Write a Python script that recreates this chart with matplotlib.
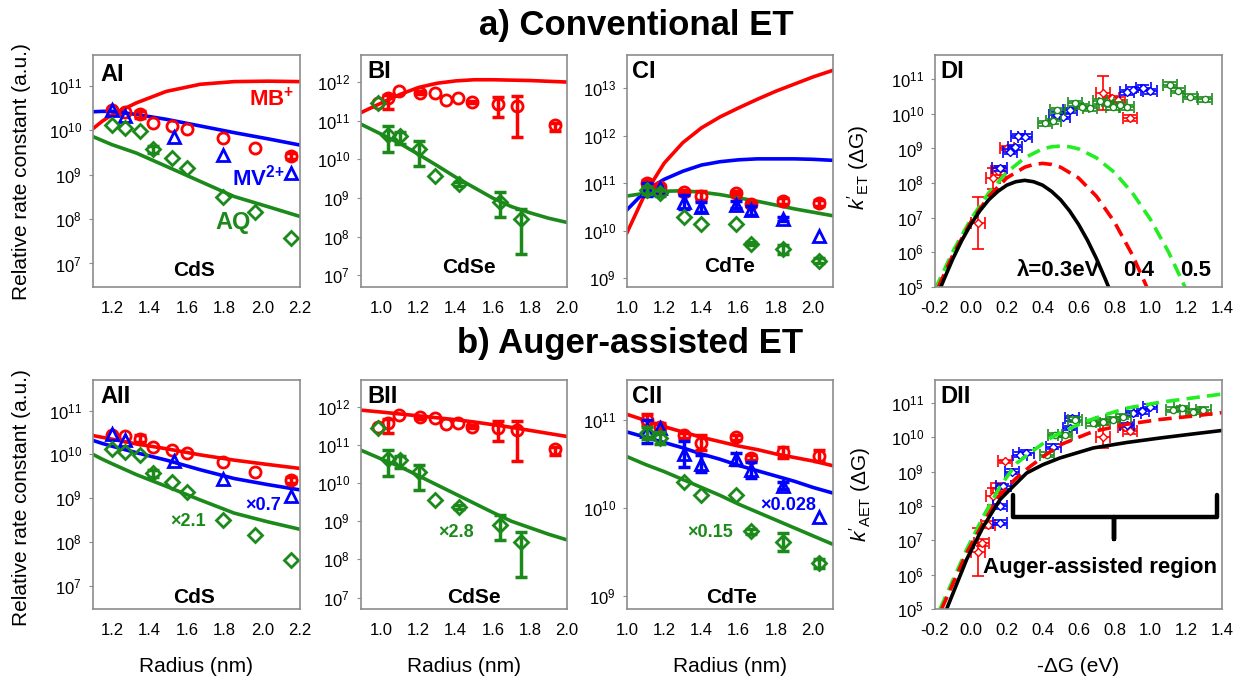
import numpy as np
import matplotlib.pyplot as plt
from matplotlib.ticker import FixedLocator, NullLocator

plt.rcParams['font.family'] = ['Liberation Sans', 'DejaVu Sans']
plt.rcParams['mathtext.fontset'] = 'custom'
plt.rcParams['mathtext.rm'] = 'Liberation Sans'
plt.rcParams['mathtext.it'] = 'Liberation Sans:italic'
plt.rcParams['mathtext.bf'] = 'Liberation Sans:bold'

RED = '#ff0000'
BLUE = '#0000ff'
GREEN = '#1b8a1b'
LIME = '#22ee22'
FRAME = '#8c8c8c'

# ---------------- CdS (panels A) : log10 of rate constants ----------------
cds_r_mb = [1.20, 1.27, 1.35, 1.42, 1.52, 1.60, 1.79, 1.96, 2.15]
cds_mb = [10.45, 10.41, 10.36, 10.17, 10.10, 10.04, 9.83, 9.61, 9.42]
cds_mb_err = [0.0, 0.0, 0.08, 0.0, 0.0, 0.0, 0.0, 0.0, 0.07]
cds_r_mv = [1.20, 1.27, 1.53, 1.79, 2.15]
cds_mv = [10.47, 10.32, 9.86, 9.45, 9.04]
cds_r_aq = [1.20, 1.27, 1.35, 1.42, 1.52, 1.60, 1.79, 1.96, 2.15]
cds_aq = [10.13, 10.06, 9.98, 9.57, 9.38, 9.15, 8.51, 8.15, 7.58]
cds_aq_err = [0.0, 0.0, 0.0, 0.08, 0.0, 0.0, 0.0, 0.0, 0.0]

cds_fit_r = [1.10, 1.15, 1.20, 1.33, 1.49, 1.67, 1.85, 2.03, 2.20]
cds_mb_conv = [10.04, 10.21, 10.35, 10.62, 10.88, 11.04, 11.10, 11.11, 11.10]
cds_mv_conv = [10.42, 10.43, 10.43, 10.36, 10.25, 10.10, 9.95, 9.81, 9.67]
cds_aq_conv = [9.86, 9.77, 9.68, 9.49, 9.19, 8.85, 8.51, 8.28, 8.06]
cds_mb_aug = [10.43, 10.39, 10.35, 10.24, 10.13, 9.99, 9.87, 9.77, 9.68]
cds_mv_aug = [10.32, 10.25, 10.19, 10.04, 9.87, 9.65, 9.45, 9.31, 9.19]
cds_aq_aug = [10.00, 9.89, 9.79, 9.54, 9.27, 8.96, 8.66, 8.46, 8.29]

# ---------------- CdSe (panels B) ----------------
cdse_r_mb = [0.98, 1.034, 1.093, 1.206, 1.29, 1.35, 1.41, 1.49, 1.63, 1.73, 1.935]
cdse_mb = [11.47, 11.58, 11.78, 11.73, 11.71, 11.54, 11.58, 11.48, 11.43, 11.38, 10.89]
cdse_mb_up = [0, 0.09, 0, 0.03, 0, 0, 0, 0.03, 0.19, 0.25, 0.06]
cdse_mb_dn = [0, 0.28, 0, 0.05, 0, 0, 0, 0.03, 0.34, 0.81, 0.15]
cdse_r_aq = [0.98, 1.034, 1.10, 1.20, 1.29, 1.42, 1.64, 1.75]
cdse_aq = [11.45, 10.63, 10.60, 10.28, 9.56, 9.37, 8.91, 8.46]
cdse_aq_up = [0, 0.23, 0.12, 0.20, 0, 0.05, 0.24, 0.26]
cdse_aq_dn = [0, 0.44, 0.20, 0.46, 0, 0.05, 0.41, 0.91]

cdse_fit_r = [0.89, 1.0, 1.1, 1.2, 1.3, 1.4, 1.5, 1.6, 1.7, 1.8, 1.9, 2.0]
cdse_mb_conv = [11.21, 11.46, 11.68, 11.86, 11.97, 12.03, 12.06, 12.06, 12.05, 12.04, 12.02, 12.00]
cdse_aq_conv = [10.91, 10.65, 10.41, 10.13, 9.84, 9.54, 9.27, 9.00, 8.78, 8.62, 8.48, 8.37]
cdse_mb_aug = [11.91, 11.86, 11.81, 11.76, 11.71, 11.66, 11.60, 11.53, 11.46, 11.38, 11.30, 11.22]
cdse_aq_aug = [10.86, 10.63, 10.43, 10.19, 9.95, 9.71, 9.47, 9.23, 9.00, 8.83, 8.66, 8.51]

# ---------------- CdTe (panels C) ----------------
cdte_r = [1.106, 1.18, 1.306, 1.398, 1.586, 1.665, 1.837, 2.03]
cdte_mb = [11.00, 10.92, 10.82, 10.74, 10.80, 10.57, 10.63, 10.59]
cdte_mv = [10.87, 10.90, 10.61, 10.50, 10.55, 10.43, 10.25, 9.89]
cdte_aq = [10.85, 10.79, 10.29, 10.14, 10.14, 9.73, 9.61, 9.37]
cdte_mb_err = [0.06, 0.04, 0.03, 0.09, 0.03, 0.03, 0.06, 0.06]
cdte_mv_err = [0.13, 0.0, 0.15, 0.10, 0.07, 0.09, 0.04, 0.0]
cdte_aq_err = [0.07, 0.07, 0.0, 0.0, 0.0, 0.03, 0.10, 0.05]

cdte_fit_r = [1.0, 1.1, 1.2, 1.3, 1.4, 1.5, 1.6, 1.7, 1.8, 1.9, 2.0, 2.1]
cdte_mb_conv = [9.96, 10.80, 11.42, 11.85, 12.16, 12.39, 12.58, 12.76, 12.93, 13.08, 13.23, 13.36]
cdte_mv_conv = [10.44, 10.84, 11.08, 11.25, 11.38, 11.45, 11.49, 11.51, 11.51, 11.51, 11.50, 11.48]
cdte_aq_conv = [10.73, 10.79, 10.83, 10.84, 10.81, 10.76, 10.69, 10.62, 10.54, 10.46, 10.39, 10.32]
cdte_mb_aug = [11.06, 10.99, 10.92, 10.86, 10.80, 10.75, 10.70, 10.66, 10.61, 10.57, 10.53, 10.48]
cdte_mv_aug = [10.86, 10.80, 10.74, 10.68, 10.61, 10.55, 10.48, 10.42, 10.36, 10.30, 10.23, 10.17]
cdte_aq_aug = [10.58, 10.49, 10.41, 10.32, 10.23, 10.14, 10.04, 9.95, 9.86, 9.77, 9.68, 9.59]

# ---------------- panel DI : Marcus curves and data ----------------
d1_g_03 = [-0.17, -0.15, -0.1, -0.05, 0.0, 0.05, 0.1, 0.15, 0.2, 0.25, 0.3,
           0.35, 0.4, 0.45, 0.5, 0.55, 0.6, 0.65, 0.7, 0.75, 0.77]
d1_k_03 = [4.97, 5.22, 5.82, 6.35, 6.81, 7.20, 7.52, 7.76, 7.94, 8.04, 8.08,
           8.04, 7.94, 7.76, 7.52, 7.20, 6.81, 6.35, 5.82, 5.22, 4.97]
d1_g_04 = [-0.18, -0.1, 0.0, 0.1, 0.2, 0.3, 0.35, 0.4, 0.45, 0.5, 0.6, 0.7, 0.8, 0.9, 0.98]
d1_k_04 = [5.01, 5.93, 6.88, 7.62, 8.15, 8.46, 8.54, 8.57, 8.54, 8.46, 8.15, 7.62, 6.88, 5.93, 5.01]
d1_g_05 = [-0.2, -0.1, 0.0, 0.1, 0.2, 0.3, 0.4, 0.45, 0.5, 0.55, 0.6, 0.7, 0.8, 0.9, 1.0, 1.1, 1.2]
d1_k_05 = [4.93, 6.03, 6.96, 7.72, 8.31, 8.73, 8.99, 9.05, 9.07, 9.05, 8.99, 8.73, 8.31, 7.72,
           6.96, 6.03, 4.93]

d1_red_g = [0.041, 0.125, 0.153, 0.20, 0.738, 0.785, 0.822, 0.887]
d1_red_k = [6.86, 8.14, 8.36, 9.01, 10.60, 10.45, 10.40, 9.88]
d1_red_e = [0.75, 0.30, 0.12, 0.05, 0.50, 0.08, 0.08, 0.10]
d1_blue_g = [0.16, 0.218, 0.246, 0.264, 0.301, 0.478, 0.515, 0.553, 0.869, 0.906, 0.962, 1.0]
d1_blue_k = [8.43, 8.91, 9.04, 9.36, 9.34, 9.97, 9.92, 10.10, 10.62, 10.70, 10.75, 10.65]
d1_green_g = [0.413, 0.46, 0.482, 0.58, 0.618, 0.663, 0.72, 0.757, 0.794, 0.831, 0.868,
              1.11, 1.156, 1.221, 1.305]
d1_green_k = [9.73, 9.78, 10.10, 10.31, 10.21, 10.16, 10.36, 10.31, 10.19, 10.26, 10.19,
              10.84, 10.67, 10.50, 10.42]

# ---------------- panel DII ----------------
d2_g_03 = [-0.135, -0.023, 0.07, 0.163, 0.218, 0.311, 0.4, 0.497, 0.682, 0.869, 1.054, 1.24, 1.4]
d2_k_03 = [5.0, 6.45, 7.41, 8.19, 8.48, 8.96, 9.20, 9.40, 9.69, 9.85, 9.98, 10.10, 10.20]
d2_g_04 = [-0.163, -0.023, 0.07, 0.163, 0.25, 0.33, 0.42, 0.497, 0.6, 0.682, 0.869, 1.054, 1.24, 1.4]
d2_k_04 = [5.0, 6.64, 7.51, 8.33, 8.80, 9.15, 9.50, 9.78, 10.0, 10.17, 10.38, 10.52, 10.62, 10.72]
d2_g_05 = [-0.172, -0.023, 0.07, 0.163, 0.256, 0.349, 0.45, 0.535, 0.65, 0.75, 0.869, 1.054, 1.24, 1.4]
d2_k_05 = [5.0, 6.74, 7.70, 8.57, 9.25, 9.62, 10.0, 10.22, 10.48, 10.66, 10.85, 11.02, 11.15, 11.26]

d2_red_g = [0.041, 0.06, 0.097, 0.125, 0.153, 0.19, 0.738, 0.86, 0.887]
d2_red_k = [6.66, 6.93, 7.46, 8.28, 8.53, 9.30, 10.02, 10.31, 10.17]
d2_red_e = [0.70, 0.10, 0.10, 0.25, 0.15, 0.05, 0.33, 0.08, 0.08]
d2_blue_g = [0.162, 0.162, 0.181, 0.228, 0.274, 0.31, 0.46, 0.553, 0.562, 0.869, 0.906, 0.952, 1.0]
d2_blue_k = [7.51, 7.99, 8.57, 9.00, 9.49, 9.55, 9.73, 10.27, 10.56, 10.36, 10.70, 10.76, 10.89]
d2_green_g = [0.423, 0.469, 0.525, 0.58, 0.682, 0.738, 0.794, 0.85, 1.128, 1.175, 1.24, 1.296]
d2_green_k = [9.49, 10.07, 10.07, 10.51, 10.41, 10.46, 10.51, 10.60, 10.80, 10.85, 10.75, 10.80]

brace_g = [0.235, 0.80, 1.372]
brace_k = [8.33, 7.67, 7.03]

W, H = 1237, 682
fig = plt.figure(figsize=(W / 100, H / 100), dpi=100)


def make_axes(x0, x1, y0, y1):
    return fig.add_axes([x0 / W, 1 - y1 / H, (x1 - x0) / W, (y1 - y0) / H])


def setup(ax, xlim, xticks, ylim, yexp):
    ax.set_yscale('log')
    ax.set_xlim(*xlim)
    ax.set_ylim(10.0 ** ylim[0], 10.0 ** ylim[1])
    ax.set_xticks(xticks)
    ax.set_xticklabels(['%.1f' % t for t in xticks])
    ax.yaxis.set_major_locator(FixedLocator([10.0 ** e for e in yexp]))
    ax.yaxis.set_minor_locator(NullLocator())
    for s in ax.spines.values():
        s.set_color(FRAME)
        s.set_linewidth(1.2)
    ax.tick_params(axis='both', labelsize=12, color=FRAME)
    ax.tick_params(axis='x', length=0, pad=10)
    ax.tick_params(axis='y', length=3, pad=5)


def curve(ax, x, k, color, **kw):
    ax.plot(x, np.power(10.0, k), color=color, lw=2.6, **kw)


def points(ax, x, k, color, marker, up=None, dn=None, ms=8):
    k = np.array(k)
    x = np.array(x)
    y = np.power(10.0, k)
    if up is not None:
        up = np.array(up)
        dn = np.array(up if dn is None else dn)
        m = (up + dn) > 0
        yerr = [y[m] - np.power(10.0, k[m] - dn[m]), np.power(10.0, k[m] + up[m]) - y[m]]
        ax.errorbar(x[m], y[m], yerr=yerr, fmt='none', ecolor=color,
                    elinewidth=2.5, capsize=4, capthick=2.5)
    ax.plot(x, y, ls='none', marker=marker, ms=ms, mfc='none', mec=color, mew=2)


def dpoints(ax, g, k, color, marker, ke=None):
    k = np.array(k)
    y = np.power(10.0, k)
    e = np.full(len(k), 0.07) if ke is None else np.array(ke)
    yerr = [y - np.power(10.0, k - e), np.power(10.0, k + e) - y]
    ax.errorbar(g, y, xerr=0.04, yerr=yerr, fmt='none', ecolor=color,
                elinewidth=1.2, capsize=4, capthick=1.2)
    ax.plot(g, y, ls='none', marker=marker, ms=4.5, mfc='white', mec=color, mew=1)


def label(ax, x, y, s, size=15, color='black', ha='center'):
    ax.text(x, y, s, transform=ax.transAxes, fontsize=size, fontweight='bold',
            color=color, ha=ha, va='center')


TOP = (55, 287)
BOT = (380, 609)
COLS = [(93, 300), (361, 567), (627, 833), (935, 1222)]
r_ticks_a = [1.2, 1.4, 1.6, 1.8, 2.0, 2.2]
r_ticks_bc = [1.0, 1.2, 1.4, 1.6, 1.8, 2.0]
g_ticks = [-0.2, 0.0, 0.2, 0.4, 0.6, 0.8, 1.0, 1.2, 1.4]

# ---------------- A ----------------
for row, (y0, y1) in enumerate([TOP, BOT]):
    ax = make_axes(COLS[0][0], COLS[0][1], y0, y1)
    setup(ax, (1.1, 2.2), r_ticks_a, (6.47, 11.70), [7, 8, 9, 10, 11])
    if row == 0:
        fits = [cds_mb_conv, cds_mv_conv, cds_aq_conv]
    else:
        fits = [cds_mb_aug, cds_mv_aug, cds_aq_aug]
    curve(ax, cds_fit_r, fits[0], RED)
    curve(ax, cds_fit_r, fits[1], BLUE)
    curve(ax, cds_fit_r, fits[2], GREEN)
    points(ax, cds_r_mb, cds_mb, RED, 'o', cds_mb_err)
    points(ax, cds_r_mv, cds_mv, BLUE, '^')
    points(ax, cds_r_aq, cds_aq, GREEN, 'D', cds_aq_err, ms=7)
    if row == 0:
        label(ax, 0.035, 0.914, 'AI', 17, ha='left')
        label(ax, 0.49, 0.073, 'CdS')
        label(ax, 0.865, 0.81, r'MB$^{\mathbf{+}}$', 16, RED)
        label(ax, 0.80, 0.47, r'MV$^{\mathbf{2}\mathbf{{+}}}$', 16, BLUE)
        label(ax, 0.676, 0.28, 'AQ', 17, GREEN)
    else:
        label(ax, 0.035, 0.926, 'AII', 17, ha='left')
        label(ax, 0.49, 0.052, 'CdS')
        label(ax, 0.82, 0.454, '×0.7', 13, BLUE)
        label(ax, 0.46, 0.38, '×2.1', 13, GREEN)

# ---------------- B ----------------
for row, (y0, y1) in enumerate([TOP, BOT]):
    ax = make_axes(COLS[1][0], COLS[1][1], y0, y1)
    setup(ax, (0.89, 2.0), r_ticks_bc, (6.7, 12.7), [7, 8, 9, 10, 11, 12])
    if row == 0:
        curve(ax, cdse_fit_r, cdse_mb_conv, RED)
        curve(ax, cdse_fit_r, cdse_aq_conv, GREEN)
    else:
        curve(ax, cdse_fit_r, cdse_mb_aug, RED)
        curve(ax, cdse_fit_r, cdse_aq_aug, GREEN)
    points(ax, cdse_r_mb, cdse_mb, RED, 'o', cdse_mb_up, cdse_mb_dn)
    points(ax, cdse_r_aq, cdse_aq, GREEN, 'D', cdse_aq_up, cdse_aq_dn, ms=7)
    if row == 0:
        label(ax, 0.03, 0.93, 'BI', 17, ha='left')
        label(ax, 0.524, 0.086, 'CdSe')
    else:
        label(ax, 0.03, 0.926, 'BII', 17, ha='left')
        label(ax, 0.549, 0.052, 'CdSe')
        label(ax, 0.461, 0.336, '×2.8', 13, GREEN)

# ---------------- C ----------------
for row, (y0, y1) in enumerate([TOP, BOT]):
    ax = make_axes(COLS[2][0], COLS[2][1], y0, y1)
    if row == 0:
        setup(ax, (1.0, 2.107), r_ticks_bc, (8.82, 13.69), [9, 10, 11, 12, 13])
        curve(ax, cdte_fit_r, cdte_mb_conv, RED)
        curve(ax, cdte_fit_r, cdte_mv_conv, BLUE)
        curve(ax, cdte_fit_r, cdte_aq_conv, GREEN)
    else:
        setup(ax, (1.0, 2.107), r_ticks_bc, (8.85, 11.45), [9, 10, 11])
        curve(ax, cdte_fit_r, cdte_mb_aug, RED)
        curve(ax, cdte_fit_r, cdte_mv_aug, BLUE)
        curve(ax, cdte_fit_r, cdte_aq_aug, GREEN)
    points(ax, cdte_r, cdte_mb, RED, 'o', cdte_mb_err)
    points(ax, cdte_r, cdte_mv, BLUE, '^', cdte_mv_err)
    points(ax, cdte_r, cdte_aq, GREEN, 'D', cdte_aq_err, ms=7)
    if row == 0:
        label(ax, 0.025, 0.93, 'CI', 17, ha='left')
        label(ax, 0.5, 0.09, 'CdTe')
    else:
        label(ax, 0.025, 0.926, 'CII', 17, ha='left')
        label(ax, 0.508, 0.052, 'CdTe')
        label(ax, 0.783, 0.454, '×0.028', 13, BLUE)
        label(ax, 0.403, 0.336, '×0.15', 13, GREEN)

# ---------------- D ----------------
dash = (3.7, 2.0)
ax = make_axes(COLS[3][0], COLS[3][1], *TOP)
setup(ax, (-0.2, 1.4), g_ticks, (5.0, 11.7), [5, 6, 7, 8, 9, 10, 11])
dpoints(ax, d1_red_g, d1_red_k, RED, 'D', d1_red_e)
dpoints(ax, d1_blue_g, d1_blue_k, BLUE, 'D')
dpoints(ax, d1_green_g, d1_green_k, GREEN, 'o')
curve(ax, d1_g_05, d1_k_05, LIME, dashes=dash)
curve(ax, d1_g_04, d1_k_04, RED, dashes=dash)
curve(ax, d1_g_03, d1_k_03, 'black')
label(ax, 0.02, 0.927, 'DI', 17, ha='left')
label(ax, 0.286, 0.073, 'λ=0.3eV', 16, ha='left')
label(ax, 0.655, 0.073, '0.4', 16, ha='left')
label(ax, 0.854, 0.073, '0.5', 16, ha='left')

ax = make_axes(COLS[3][0], COLS[3][1], *BOT)
setup(ax, (-0.2, 1.4), g_ticks, (5.0, 11.67), [5, 6, 7, 8, 9, 10, 11])
dpoints(ax, d2_red_g, d2_red_k, RED, 'D', d2_red_e)
dpoints(ax, d2_blue_g, d2_blue_k, BLUE, 'D')
dpoints(ax, d2_green_g, d2_green_k, GREEN, 'o')
curve(ax, d2_g_05, d2_k_05, LIME, dashes=dash)
curve(ax, d2_g_04, d2_k_04, RED, dashes=dash)
curve(ax, d2_g_03, d2_k_03, 'black')
bx = [brace_g[0], brace_g[0], brace_g[1], brace_g[1], brace_g[1], brace_g[2], brace_g[2]]
by = [brace_k[0], brace_k[1], brace_k[1], brace_k[2], brace_k[1], brace_k[1], brace_k[0]]
ax.plot(bx, np.power(10.0, by), color='black', lw=3.2, solid_joinstyle='round',
        solid_capstyle='round')
label(ax, 0.02, 0.926, 'DII', 17, ha='left')
label(ax, 0.575, 0.183, 'Auger-assisted region', 16)

# ---------------- figure texts ----------------
fig.text(636 / W, 1 - 25 / H, 'a) Conventional ET', fontsize=25, fontweight='bold',
         ha='center', va='center')
fig.text(630 / W, 1 - 343 / H, 'b) Auger-assisted ET', fontsize=25, fontweight='bold',
         ha='center', va='center')
for yc in (172, 498):
    fig.text(22 / W, 1 - yc / H, 'Relative rate constant (a.u.)', fontsize=15,
             rotation=90, ha='center', va='center')
fig.text(858 / W, 1 - 167 / H, r"$k'_{\mathrm{ET}}$ (ΔG)", fontsize=15,
         rotation=90, ha='center', va='center')
fig.text(860 / W, 1 - 495 / H, r"$k'_{\mathrm{AET}}$ (ΔG)", fontsize=15,
         rotation=90, ha='center', va='center')
for xc in (196, 464, 730):
    fig.text(xc / W, 1 - 666 / H, 'Radius (nm)', fontsize=15, ha='center', va='center')
fig.text(1078 / W, 1 - 666 / H, '-ΔG (eV)', fontsize=15, ha='center', va='center')

fig.savefig('out.png', dpi=100)
